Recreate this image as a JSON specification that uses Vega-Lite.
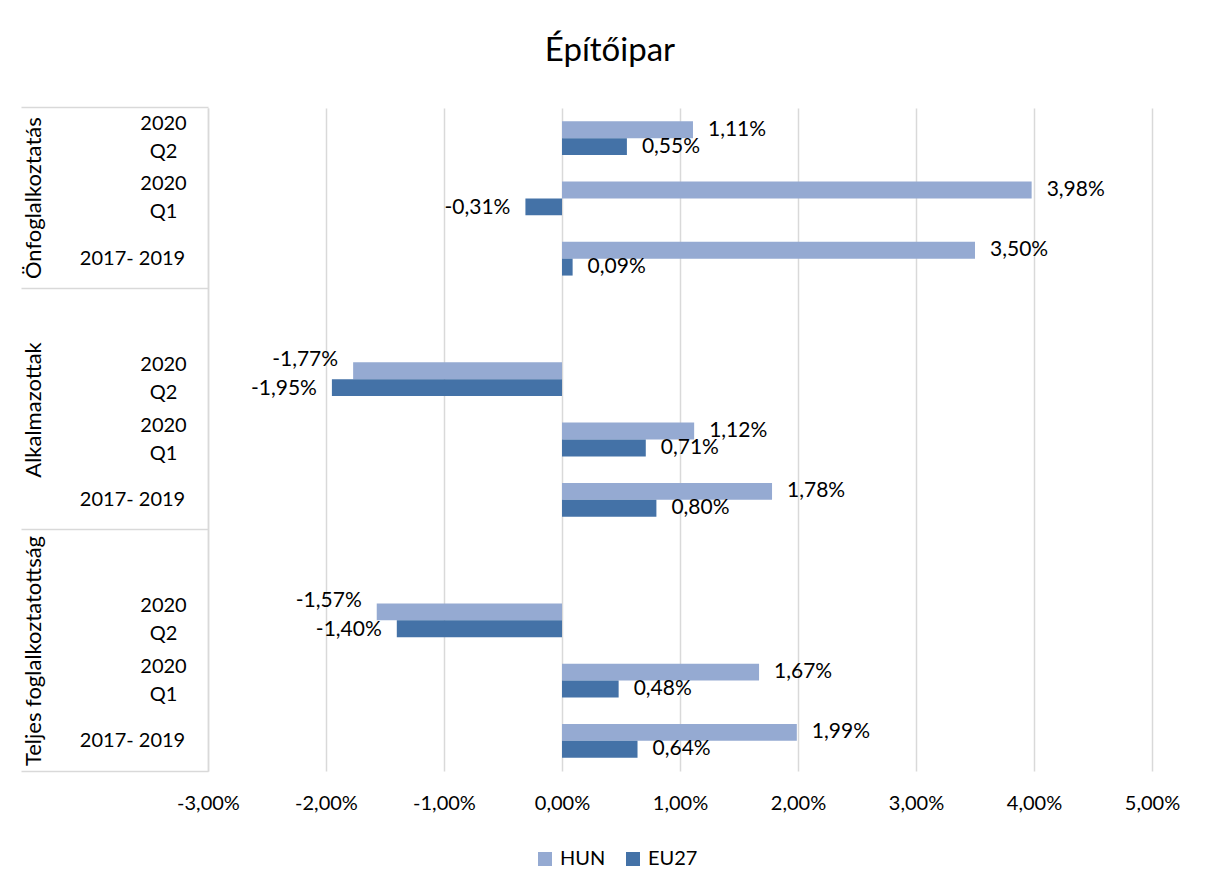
{
  "$schema": "https://vega.github.io/schema/vega-lite/v6.json",
  "width": 944,
  "height": 663,
  "autosize": {"type": "none"},
  "padding": {"left": 208, "top": 108, "right": 55, "bottom": 117},
  "background": "white",
  "title": {"text": "Építőipar", "fontSize": 33, "font": "Lato", "fontWeight": "normal", "color": "#000000", "anchor": "middle", "frame": "bounds", "offset": 38, "dx": 10},
  "config": {
    "locale": {"number": {"decimal": ",", "thousands": " ", "grouping": [3], "currency": ["", " Ft"], "minus": "-"}},
    "font": "Lato",
    "view": {"stroke": null},
    "axis": {"labelFont": "Lato", "labelFontSize": 20, "labelColor": "#000000"}
  },
  "data": {"values": [
    {"kategoria": "Önfoglalkoztatás|2020 Q2", "sorozat": "HUN", "ertek": 0.0111},
    {"kategoria": "Önfoglalkoztatás|2020 Q2", "sorozat": "EU27", "ertek": 0.0055},
    {"kategoria": "Önfoglalkoztatás|2020 Q1", "sorozat": "HUN", "ertek": 0.0398},
    {"kategoria": "Önfoglalkoztatás|2020 Q1", "sorozat": "EU27", "ertek": -0.0031},
    {"kategoria": "Önfoglalkoztatás|2017- 2019", "sorozat": "HUN", "ertek": 0.0350},
    {"kategoria": "Önfoglalkoztatás|2017- 2019", "sorozat": "EU27", "ertek": 0.0009},
    {"kategoria": "Alkalmazottak|2020 Q2", "sorozat": "HUN", "ertek": -0.0177},
    {"kategoria": "Alkalmazottak|2020 Q2", "sorozat": "EU27", "ertek": -0.0195},
    {"kategoria": "Alkalmazottak|2020 Q1", "sorozat": "HUN", "ertek": 0.0112},
    {"kategoria": "Alkalmazottak|2020 Q1", "sorozat": "EU27", "ertek": 0.0071},
    {"kategoria": "Alkalmazottak|2017- 2019", "sorozat": "HUN", "ertek": 0.0178},
    {"kategoria": "Alkalmazottak|2017- 2019", "sorozat": "EU27", "ertek": 0.0080},
    {"kategoria": "Teljes foglalkoztatottság|2020 Q2", "sorozat": "HUN", "ertek": -0.0157},
    {"kategoria": "Teljes foglalkoztatottság|2020 Q2", "sorozat": "EU27", "ertek": -0.0140},
    {"kategoria": "Teljes foglalkoztatottság|2020 Q1", "sorozat": "HUN", "ertek": 0.0167},
    {"kategoria": "Teljes foglalkoztatottság|2020 Q1", "sorozat": "EU27", "ertek": 0.0048},
    {"kategoria": "Teljes foglalkoztatottság|2017- 2019", "sorozat": "HUN", "ertek": 0.0199},
    {"kategoria": "Teljes foglalkoztatottság|2017- 2019", "sorozat": "EU27", "ertek": 0.0064}
  ]},
  "encoding": {
    "x": {
      "field": "ertek", "type": "quantitative",
      "scale": {"domain": [-0.03, 0.05], "nice": false, "zero": false},
      "axis": {"values": [-0.03, -0.02, -0.01, 0, 0.01, 0.02, 0.03, 0.04, 0.05], "format": ".2%", "grid": true, "gridColor": "#D9D9D9", "gridWidth": 1.5, "domain": false, "ticks": false, "labelPadding": 22, "title": null, "labelFlush": false, "labelOverlap": false}
    },
    "yOffset": {"field": "sorozat", "type": "nominal", "scale": {"domain": ["HUN", "EU27"], "paddingInner": 0, "paddingOuter": 0}}
  },
  "layer": [
    {
      "mark": {"type": "bar"},
      "encoding": {
        "y": {
          "field": "kategoria", "type": "nominal",
          "scale": {"domain": ["Önfoglalkoztatás|2020 Q2", "Önfoglalkoztatás|2020 Q1", "Önfoglalkoztatás|2017- 2019", "Alkalmazottak|", "Alkalmazottak|2020 Q2", "Alkalmazottak|2020 Q1", "Alkalmazottak|2017- 2019", "Teljes foglalkoztatottság|", "Teljes foglalkoztatottság|2020 Q2", "Teljes foglalkoztatottság|2020 Q1", "Teljes foglalkoztatottság|2017- 2019"], "paddingInner": 0.44, "paddingOuter": 0.22},
          "axis": {
            "orient": "left", "title": null, "domain": true, "domainColor": "#D9D9D9", "domainWidth": 1.5,
            "ticks": false, "tickSize": 0, "grid": false,
            "labelAlign": "center", "labelBaseline": "middle", "labelLineHeight": 28, "labelOverlap": false,
            "labelPadding": {"condition": {"test": "indexof(datum.value, '2017') >= 0", "value": 76}, "value": 45},
            "labelOffset": {"condition": {"test": "indexof(datum.value, '|2020 ') >= 0", "value": -14}, "value": 0},
            "labelExpr": "indexof(datum.value, '|2020 ') >= 0 ? split(slice(datum.value, indexof(datum.value, '|') + 1), ' ') : slice(datum.value, indexof(datum.value, '|') + 1)"
          }
        },
        "color": {
          "field": "sorozat", "type": "nominal",
          "scale": {"domain": ["HUN", "EU27"], "range": ["#95AAD2", "#4472A7"]},
          "legend": {"orient": "none", "legendX": 327, "legendY": 741, "direction": "horizontal", "title": null, "symbolType": "square", "symbolSize": 196, "symbolStrokeWidth": 0, "labelFontSize": 20, "labelFont": "Lato", "labelColor": "#000000", "labelOffset": 5, "columnPadding": 17}
        }
      }
    },
    {
      "transform": [{"filter": "datum.ertek >= 0"}],
      "mark": {"type": "text", "align": "left", "baseline": "middle", "dx": 15, "fontSize": 21, "font": "Lato", "color": "#000000"},
      "encoding": {
        "y": {
          "field": "kategoria", "type": "nominal",
          "scale": {"domain": ["Önfoglalkoztatás|2020 Q2", "Önfoglalkoztatás|2020 Q1", "Önfoglalkoztatás|2017- 2019", "Alkalmazottak|", "Alkalmazottak|2020 Q2", "Alkalmazottak|2020 Q1", "Alkalmazottak|2017- 2019", "Teljes foglalkoztatottság|", "Teljes foglalkoztatottság|2020 Q2", "Teljes foglalkoztatottság|2020 Q1", "Teljes foglalkoztatottság|2017- 2019"], "paddingInner": 0.44, "paddingOuter": 0.22},
          "axis": {
            "orient": "left", "title": null, "values": ["Önfoglalkoztatás|2020 Q2", "Alkalmazottak|", "Teljes foglalkoztatottság|"],
            "bandPosition": -0.393, "domain": false, "grid": false,
            "ticks": true, "tickSize": 187, "tickColor": "#D9D9D9", "tickWidth": 1.5,
            "labelAngle": 270, "labelAlign": "center", "labelBaseline": "middle", "labelPadding": -12, "labelLimit": 400, "labelOverlap": false, "labelFontSize": 22,
            "labelOffset": {"condition": {"test": "indexof(datum.value, 'Önfog') == 0", "value": 60}, "value": 91},
            "labelExpr": "slice(datum.value, 0, indexof(datum.value, '|'))"
          }
        },
        "text": {"field": "ertek", "type": "quantitative", "format": ".2%"}
      }
    },
    {
      "transform": [{"filter": "datum.ertek < 0"}],
      "mark": {"type": "text", "align": "right", "baseline": "middle", "dx": -15, "dy": {"expr": "datum.sorozat == 'HUN' ? -11 : 1"}, "fontSize": 21, "font": "Lato", "color": "#000000"},
      "encoding": {
        "y": {
          "field": "kategoria", "type": "nominal",
          "scale": {"domain": ["Önfoglalkoztatás|2020 Q2", "Önfoglalkoztatás|2020 Q1", "Önfoglalkoztatás|2017- 2019", "Alkalmazottak|", "Alkalmazottak|2020 Q2", "Alkalmazottak|2020 Q1", "Alkalmazottak|2017- 2019", "Teljes foglalkoztatottság|", "Teljes foglalkoztatottság|2020 Q2", "Teljes foglalkoztatottság|2020 Q1", "Teljes foglalkoztatottság|2017- 2019"], "paddingInner": 0.44, "paddingOuter": 0.22},
          "axis": {
            "orient": "left", "title": null, "values": ["Teljes foglalkoztatottság|2017- 2019"],
            "bandPosition": 1.393, "domain": false, "grid": false, "labels": false,
            "ticks": true, "tickSize": 187, "tickColor": "#D9D9D9", "tickWidth": 1.5
          }
        },
        "text": {"field": "ertek", "type": "quantitative", "format": ".2%"}
      }
    }
  ],
  "resolve": {"axis": {"y": "independent"}}
}
